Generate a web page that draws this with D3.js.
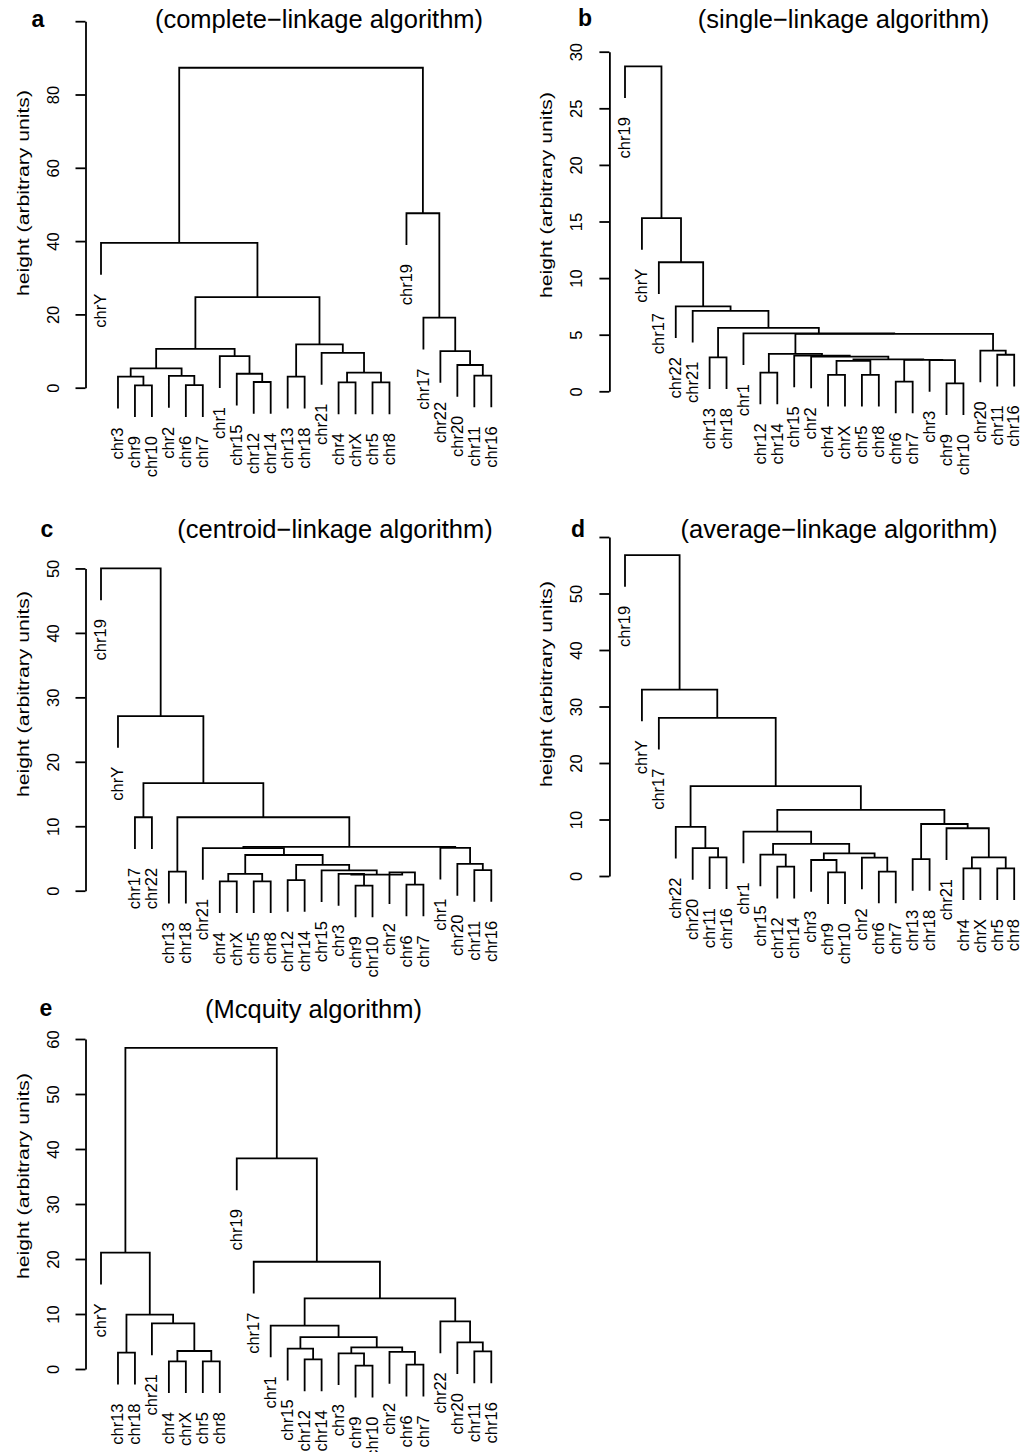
<!DOCTYPE html>
<html>
<head>
<meta charset="utf-8">
<script src="https://cdn.jsdelivr.net/npm/d3@7"></script>
<style>
  body { margin: 0; background: #fff; }
  svg text { font-family: "Liberation Sans", Arial, Helvetica, sans-serif; fill: #000; }
</style>
</head>
<body>
<svg id="fig" width="1021" height="1452"></svg>
<script>
// leaves in drawing order (left to right), and merges [left, right, height]
// a string in a merge is a leaf, a number is an earlier merge (0-based)

// a: complete linkage
const leavesA = ["chrY","chr3","chr9","chr10","chr2","chr6","chr7","chr1","chr15","chr12","chr14",
  "chr13","chr18","chr21","chr4","chrX","chr5","chr8","chr19","chr17","chr22","chr20","chr11","chr16"];
const mergesA = [
  ["chr9","chr10",0.65], ["chr3",0,3.0], ["chr6","chr7",0.7], ["chr2",2,3.2], [1,3,5.3],
  ["chr12","chr14",1.55], ["chr15",5,3.8], ["chr1",6,8.6], [4,7,10.6], ["chr13","chr18",3.0],
  ["chr4","chrX",1.45], ["chr5","chr8",1.45], [10,11,4.1], ["chr21",12,9.5], [9,13,11.8],
  [8,14,24.7], ["chrY",15,39.5], ["chr11","chr16",3.3], ["chr20",17,6.2], ["chr22",18,10.0],
  ["chr17",19,19.1], ["chr19",20,47.6], [16,21,87.3]
];
const ticksA = [0, 20, 40, 60, 80, 100];
const tickLabelsA = ["0", "20", "40", "60", "80", ""];

// b: single linkage
const leavesB = ["chr19","chrY","chr17","chr22","chr21","chr13","chr18","chr1","chr12","chr14","chr15",
  "chr2","chr4","chrX","chr5","chr8","chr6","chr7","chr3","chr9","chr10","chr20","chr11","chr16"];
const mergesB = [
  ["chr9","chr10",0.7], ["chr6","chr7",0.85], ["chr4","chrX",1.45], ["chr5","chr8",1.45],
  ["chr12","chr14",1.65], [2,3,2.68], ["chr3",0,2.76], [1,6,2.78], [5,7,2.82],
  ["chr13","chr18",3.0], ["chr2",8,3.06], ["chr15",10,3.15], ["chr11","chr16",3.23],
  [4,11,3.3], ["chr20",12,3.6], [13,14,5.08], ["chr1",15,5.12], [9,16,5.6],
  ["chr21",17,7.1], ["chr22",18,7.5], ["chr17",19,11.4], ["chrY",20,15.3], ["chr19",21,28.7]
];
const ticksB = [0, 5, 10, 15, 20, 25, 30];
const tickLabelsB = ["0", "5", "10", "15", "20", "25", "30"];

// c: centroid linkage
const leavesC = ["chr19","chrY","chr17","chr22","chr13","chr18","chr21","chr4","chrX","chr5","chr8",
  "chr12","chr14","chr15","chr3","chr9","chr10","chr2","chr6","chr7","chr1","chr20","chr11","chr16"];
const mergesC = [
  ["chr9","chr10",0.8], ["chr6","chr7",0.95], ["chr4","chrX",1.45], ["chr5","chr8",1.45],
  ["chr12","chr14",1.65], ["chr3",0,2.6], ["chr2",1,2.85], [5,6,2.5], [2,3,2.6],
  ["chr15",7,3.16], [4,9,4.0], ["chr11","chr16",3.2], ["chr20",11,4.15], [8,10,5.54],
  ["chr21",13,6.6], ["chr1",12,6.65], [14,15,6.8], ["chr13","chr18",2.95], [17,16,11.4],
  ["chr17","chr22",11.4], [19,18,16.7], ["chrY",20,27.1], ["chr19",21,50.0]
];
const ticksC = [0, 10, 20, 30, 40, 50];
const tickLabelsC = ["0", "10", "20", "30", "40", "50"];

// d: average linkage
const leavesD = ["chr19","chrY","chr17","chr22","chr20","chr11","chr16","chr1","chr15","chr12","chr14",
  "chr3","chr9","chr10","chr2","chr6","chr7","chr13","chr18","chr21","chr4","chrX","chr5","chr8"];
const mergesD = [
  ["chr9","chr10",0.65], ["chr6","chr7",0.77], ["chr4","chrX",1.35], ["chr5","chr8",1.35],
  ["chr12","chr14",1.65], ["chr3",0,2.83], ["chr13","chr18",3.0], ["chr2",1,3.25],
  ["chr11","chr16",3.3], [2,3,3.3], ["chr15",4,3.8], [5,7,4.0], ["chr20",8,4.95],
  [10,11,5.7], ["chr1",13,7.85], ["chr21",9,8.45], ["chr22",12,8.7], [6,15,9.2],
  [14,17,11.7], [16,18,15.9], ["chr17",19,28.0], ["chrY",20,33.0], ["chr19",21,56.8]
];
const ticksD = [0, 10, 20, 30, 40, 50, 60];
const tickLabelsD = ["0", "10", "20", "30", "40", "50", ""];

// e: Mcquitty
const leavesE = ["chrY","chr13","chr18","chr21","chr4","chrX","chr5","chr8","chr19","chr17","chr1",
  "chr15","chr12","chr14","chr3","chr9","chr10","chr2","chr6","chr7","chr22","chr20","chr11","chr16"];
const mergesE = [
  ["chr9","chr10",0.6], ["chr6","chr7",0.8], ["chr4","chrX",1.4], ["chr5","chr8",1.4],
  ["chr12","chr14",1.75], ["chr3",0,2.85], ["chr13","chr18",2.97], ["chr2",1,3.1],
  ["chr11","chr16",3.2], [2,3,3.27], ["chr15",4,3.7], [5,7,3.95], ["chr20",8,4.85],
  [10,11,5.8], ["chr1",13,7.9], ["chr21",9,8.3], ["chr22",12,8.65], [6,15,9.9],
  [14,16,12.85], ["chr17",18,19.5], ["chrY",17,21.15], ["chr19",19,38.3], [20,21,58.4]
];
const ticksE = [0, 10, 20, 30, 40, 50, 60];
const tickLabelsE = ["0", "10", "20", "30", "40", "50", "60"];

// page layout of the five panels (pixels)
const panels = [
  {letter:"a", title:"(complete\u2212linkage algorithm)", leaves:leavesA, merges:mergesA, ticks:ticksA, tickLabels:tickLabelsA,
   axisX:85.5, x0:101, x1:491.3, y0:387.7, k:3.665, titleX:319, titleY:28, letterX:38, letterY:27, ylabBottom:296},
  {letter:"b", title:"(single\u2212linkage algorithm)", leaves:leavesB, merges:mergesB, ticks:ticksB, tickLabels:tickLabelsB,
   axisX:609.4, x0:625, x1:1014.2, y0:391.3, k:11.32, titleX:843.5, titleY:28, letterX:585, letterY:26, ylabBottom:298},
  {letter:"c", title:"(centroid\u2212linkage algorithm)", leaves:leavesC, merges:mergesC, ticks:ticksC, tickLabels:tickLabelsC,
   axisX:85.5, x0:101, x1:491.3, y0:890.7, k:6.445, titleX:335, titleY:538, letterX:47, letterY:537, ylabBottom:797},
  {letter:"d", title:"(average\u2212linkage algorithm)", leaves:leavesD, merges:mergesD, ticks:ticksD, tickLabels:tickLabelsD,
   axisX:609.4, x0:625, x1:1014.2, y0:876, k:5.65, titleX:839, titleY:538, letterX:578, letterY:537, ylabBottom:787},
  {letter:"e", title:"(Mcquity algorithm)", leaves:leavesE, merges:mergesE, ticks:ticksE, tickLabels:tickLabelsE,
   axisX:85.5, x0:101, x1:491.3, y0:1369, k:5.5, titleX:313.5, titleY:1018, letterX:46, letterY:1016, ylabBottom:1279}
];

const svg = d3.select("#fig");
const lw = 1.8;

panels.forEach(p => {
  let g = svg.append("g");

  let x = d3.scalePoint()
    .domain(p.leaves)
    .range([p.x0, p.x1]);

  let top = d3.max(p.ticks);
  let y = d3.scaleLinear()
    .domain([0, top])
    .range([p.y0, p.y0 - top * p.k]);

  // leaves hang below their merge by 10% of the height range (like plot.hclust)
  let hs = p.merges.map(m => m[2]);
  let hang = 0.1 * (d3.max(hs) - d3.min(hs));

  let nodeX = [];
  let leafBottom = {};
  let childPos = (c, h) => {
    if (typeof c === "string") {
      leafBottom[c] = h - hang;
      return [x(c), h - hang];
    }
    return [nodeX[c], p.merges[c][2]];
  };

  let segs = [];
  p.merges.forEach((m, i) => {
    let a = childPos(m[0], m[2]);
    let b = childPos(m[1], m[2]);
    nodeX[i] = (a[0] + b[0]) / 2;
    segs.push({a: a, b: b, h: m[2]});
  });

  g.append("g").selectAll("path")
    .data(segs)
    .join("path")
    .attr("d", s => `M${s.a[0]},${y(s.a[1])}V${y(s.h)}H${s.b[0]}V${y(s.b[1])}`)
    .attr("fill", "none")
    .attr("stroke", "#000")
    .attr("stroke-width", lw);

  // leaf labels, rotated, hanging under each leaf
  g.append("g").selectAll("text")
    .data(p.leaves)
    .join("text")
    .attr("transform", d => `translate(${x(d)},${y(leafBottom[d]) + 19}) rotate(-90)`)
    .attr("text-anchor", "end")
    .attr("dy", "0.32em")
    .style("font-size", "16.5px")
    .text(d => d);

  // y axis
  let yAxis = d3.axisLeft(y)
    .tickValues(p.ticks)
    .tickSize(10)
    .tickSizeOuter(0)
    .tickFormat((d, i) => p.tickLabels[i]);

  let ax = g.append("g")
    .attr("transform", `translate(${p.axisX},0)`)
    .call(yAxis);
  ax.select(".domain").attr("stroke-width", lw);
  ax.selectAll(".tick line").attr("stroke-width", lw);
  ax.selectAll(".tick text")
    .attr("x", null)
    .attr("dy", null)
    .attr("text-anchor", "middle")
    .attr("transform", "translate(-27,0) rotate(-90)")
    .style("font-size", "16.5px")
    .style("font-family", "Liberation Sans, Arial, sans-serif");

  g.append("text")
    .attr("transform", `translate(${p.axisX - 57},${p.ylabBottom}) rotate(-90)`)
    .attr("text-anchor", "start")
    .attr("textLength", 206)
    .attr("lengthAdjust", "spacingAndGlyphs")
    .style("font-size", "16.5px")
    .text("height (arbitrary units)");

  g.append("text")
    .attr("x", p.titleX)
    .attr("y", p.titleY)
    .attr("text-anchor", "middle")
    .style("font-size", "25.5px")
    .text(p.title);

  g.append("text")
    .attr("x", p.letterX)
    .attr("y", p.letterY)
    .attr("text-anchor", "middle")
    .style("font-size", "23px")
    .style("font-weight", "bold")
    .text(p.letter);
});
</script>
</body>
</html>
